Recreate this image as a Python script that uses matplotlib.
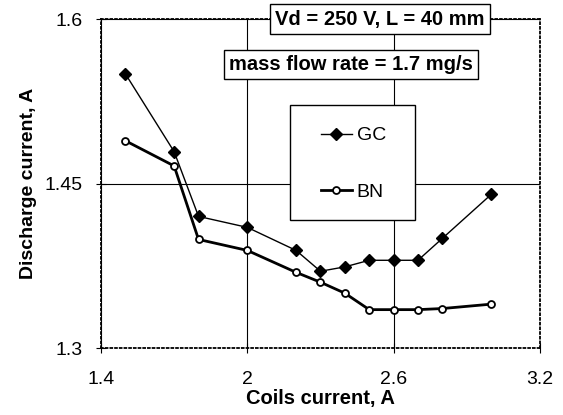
import matplotlib.pyplot as plt
from matplotlib.patches import Rectangle

plt.rcParams['font.family'] = ['Liberation Sans', 'DejaVu Sans']

coils = [1.5, 1.7, 1.8, 2.0, 2.2, 2.3, 2.4, 2.5, 2.6, 2.7, 2.8, 3.0]
gc = [1.55, 1.479, 1.42, 1.41, 1.389, 1.37, 1.374, 1.38, 1.38, 1.38, 1.40, 1.44]
bn = [1.489, 1.466, 1.399, 1.389, 1.369, 1.36, 1.35, 1.335, 1.335, 1.335, 1.336, 1.34]

xticks = [1.4, 2, 2.6, 3.2]
xlabels = ['1.4', '2', '2.6', '3.2']
yticks = [1.3, 1.45, 1.6]
ylabels = ['1.3', '1.45', '1.6']

fig = plt.figure(figsize=(5.63, 4.15), dpi=100)
ax = fig.add_axes([0.1794, 0.1614, 0.7796, 0.7928])

ax.plot(coils, gc, color='black', lw=1.0, marker='D', ms=6,
        mfc='black', mec='black', label='GC', zorder=3)
ax.plot(coils, bn, color='black', lw=2.0, marker='o', ms=5,
        mfc='white', mec='black', mew=1.3, label='BN', zorder=3)

ax.set_xlim(1.4, 3.2)
ax.set_ylim(1.3, 1.6)
ax.set_xticks(xticks, xlabels)
ax.set_yticks(yticks, ylabels)
ax.tick_params(direction='inout', length=7, width=0.8, labelsize=14)
ax.tick_params(axis='x', pad=13)
ax.tick_params(axis='y', pad=10)
ax.grid(True, color='black', lw=0.8)
for s in ax.spines.values():
    s.set_linestyle((0, (1, 1.6)))
    s.set_linewidth(1.3)

ax.set_xlabel('Coils current, A', fontsize=14.5, fontweight='bold', labelpad=1)
ax.set_ylabel('Discharge current, A', fontsize=14, fontweight='bold', labelpad=5)

box = dict(boxstyle='square,pad=0.25', facecolor='white', edgecolor='black', lw=1.0)
ax.text(0.636, 1.0, 'Vd = 250 V, L = 40 mm', transform=ax.transAxes,
        ha='center', va='center', fontsize=14.5, fontweight='bold', bbox=box, zorder=5)
ax.text(0.569, 0.863, 'mass flow rate = 1.7 mg/s', transform=ax.transAxes,
        ha='center', va='center', fontsize=14.5, fontweight='bold', bbox=box, zorder=5)

# legend frame
ax.add_patch(Rectangle((0.4305, 0.389), 0.285, 0.3495, transform=ax.transAxes,
                       facecolor='white', edgecolor='black', lw=1.0, zorder=4))
leg = ax.legend(loc='center', bbox_to_anchor=(0.575, 0.56), frameon=False,
                fontsize=14, handlelength=1.6, handletextpad=0.25, labelspacing=2.0)
leg.set_zorder(6)

fig.savefig('out.png', dpi=100)
